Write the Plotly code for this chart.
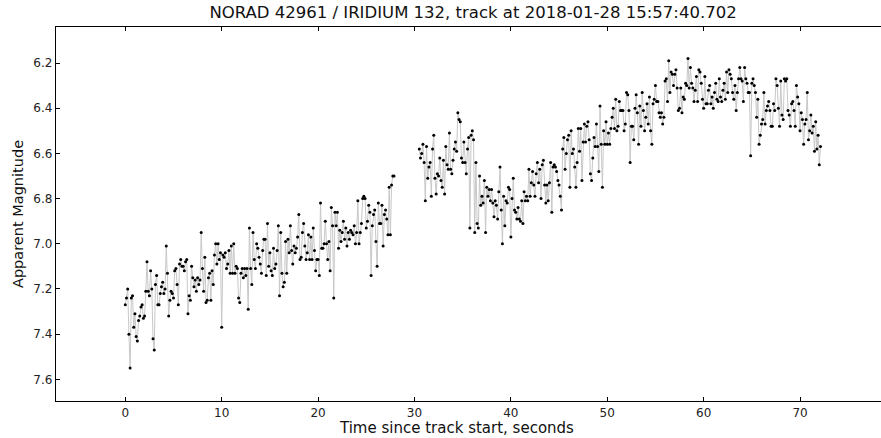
import plotly.graph_objects as go

# ---- data (apparent magnitude, sampled at SAMPLE_RATE Hz) ----
SAMPLE_RATE = 8
seg1_start = 0.0
seg1_mag = [
    7.27, 7.24, 7.20, 7.40, 7.55, 7.24, 7.23, 7.37,
    7.31, 7.41, 7.43, 7.34, 7.32, 7.28, 7.27, 7.33,
    7.32, 7.21, 7.08, 7.21, 7.23, 7.12, 7.20, 7.42,
    7.47, 7.18, 7.14, 7.27, 7.27, 7.22, 7.19, 7.17,
    7.22, 7.20, 7.01, 7.13, 7.32, 7.25, 7.21, 7.22,
    7.24, 7.12, 7.11, 7.18, 7.27, 7.09, 7.07, 7.10,
    7.10, 7.12, 7.08, 7.07, 7.31, 7.23, 7.25, 7.10,
    7.15, 7.19, 7.16, 7.21, 7.15, 7.18, 7.16, 6.95,
    7.11, 7.21, 7.06, 7.26, 7.25, 7.15, 7.13, 7.25,
    7.12, 7.18, 7.05, 7.00, 7.09, 7.00, 7.07, 7.04,
    7.37, 7.05, 7.06, 7.04, 7.11, 7.09, 7.03, 7.13,
    7.01, 7.13, 7.00, 7.13, 7.10, 7.11, 7.24, 7.26,
    7.13, 7.11, 7.15, 7.11, 7.14, 7.11, 7.29, 6.93,
    7.11, 7.18, 6.95, 7.07, 7.11, 7.00, 7.02, 7.06,
    7.09, 7.13, 7.03, 6.98, 6.98, 7.14, 6.91, 7.10,
    7.04, 7.12, 7.14, 7.02, 7.11, 7.09, 7.03, 6.92,
    7.23, 6.95, 7.13, 7.19, 7.17, 6.99, 7.13, 6.98,
    7.04, 6.92, 7.03, 7.09, 7.01, 7.04, 7.02, 6.97,
    6.87, 7.07, 7.06, 6.95, 6.91, 7.01, 7.07, 7.04,
    6.96, 7.07, 6.97, 7.07, 6.93, 7.03, 7.12, 7.07,
    7.07, 7.14, 6.82, 7.02, 7.02, 7.00, 6.90, 7.00,
    7.07, 6.99, 7.12, 6.84, 6.92, 7.24, 6.86, 6.92,
    6.86, 7.02, 6.94, 6.99, 6.95, 6.90, 6.98, 6.93,
    7.01, 6.95, 6.98, 6.94, 6.95, 6.96, 6.92, 7.00,
    6.95, 6.81, 7.00, 6.95, 6.91, 6.80, 6.79, 6.80,
    6.93, 6.90, 6.83, 6.86, 7.14, 6.92, 6.87, 6.85,
    6.99, 7.10, 6.82, 6.91, 6.91, 6.83, 7.01, 6.87,
    6.85, 6.89, 6.96, 6.75, 6.96, 6.74, 6.70, 6.70,
]
seg2_start = 30.5
seg2_mag = [
    6.58, 6.62, 6.60, 6.56, 6.64, 6.81, 6.57, 6.71,
    6.66, 6.64, 6.79, 6.58, 6.52, 6.71, 6.78, 6.69,
    6.70, 6.62, 6.72, 6.75, 6.63, 6.78, 6.57, 6.65,
    6.67, 6.51, 6.67, 6.69, 6.63, 6.58, 6.55, 6.59,
    6.42, 6.45, 6.46, 6.62, 6.64, 6.55, 6.64, 6.69,
    6.58, 6.53, 6.93, 6.52, 6.50, 6.54, 6.95, 6.64,
    6.91, 6.93, 6.70, 6.83, 6.79, 6.82, 6.72, 6.95,
    6.75, 6.79, 6.76, 6.81, 6.76, 6.82, 6.88, 6.81,
    6.83, 6.89, 6.77, 6.66, 6.85, 7.00, 6.79, 6.92,
    6.81, 6.82, 6.75, 6.76, 6.97, 6.80, 6.71, 6.85,
    6.86, 6.89, 6.84, 6.89, 6.90, 6.81, 6.91, 6.77,
    6.81, 6.79, 6.81, 6.67, 6.79, 6.73, 6.68, 6.74,
    6.79, 6.69, 6.64, 6.73, 6.67, 6.80, 6.65, 6.63,
    6.74, 6.82, 6.74, 6.81, 6.73, 6.64, 6.86, 6.66,
    6.65, 6.66, 6.68, 6.72, 6.74, 6.79, 6.85, 6.58,
    6.53, 6.67, 6.60, 6.54, 6.52, 6.75, 6.50, 6.60,
    6.58, 6.66, 6.75, 6.64, 6.49, 6.59, 6.49, 6.72,
    6.55, 6.47, 6.55, 6.48, 6.46, 6.54, 6.69, 6.72,
    6.62, 6.53, 6.57, 6.47, 6.57, 6.68, 6.39, 6.56,
    6.75, 6.50, 6.56, 6.46, 6.56, 6.51, 6.56, 6.49,
    6.44, 6.40, 6.49, 6.36, 6.50, 6.48, 6.37, 6.41,
    6.41, 6.41, 6.50, 6.47, 6.33, 6.34, 6.41, 6.64,
    6.48, 6.48, 6.54, 6.40, 6.34, 6.42, 6.56, 6.39,
    6.48, 6.33, 6.41, 6.50, 6.44, 6.38, 6.47, 6.35,
    6.50, 6.56, 6.38, 6.36, 6.30, 6.37, 6.37, 6.42,
    6.44, 6.42, 6.47, 6.44, 6.28, 6.27, 6.37, 6.19,
    6.33, 6.24, 6.25, 6.30, 6.25, 6.23, 6.31, 6.41,
    6.40, 6.31, 6.42, 6.35, 6.36, 6.29, 6.30, 6.18,
    6.31, 6.22, 6.29, 6.31, 6.37, 6.32, 6.26, 6.37,
    6.23, 6.24, 6.29, 6.36, 6.40, 6.26, 6.38, 6.38,
    6.32, 6.30, 6.38, 6.35, 6.40, 6.33, 6.29, 6.36,
    6.37, 6.27, 6.35, 6.37, 6.32, 6.29, 6.36, 6.24,
    6.33, 6.23, 6.25, 6.27, 6.33, 6.36, 6.30, 6.41,
    6.33, 6.27, 6.22, 6.27, 6.28, 6.37, 6.22, 6.27,
    6.29, 6.33, 6.33, 6.61, 6.29, 6.27, 6.30, 6.33,
    6.44, 6.36, 6.56, 6.52, 6.47, 6.45, 6.33, 6.47,
    6.41, 6.39, 6.37, 6.41, 6.48, 6.48, 6.38, 6.41,
    6.27, 6.30, 6.40, 6.48, 6.28, 6.43, 6.45, 6.27,
    6.28, 6.27, 6.41, 6.43, 6.48, 6.38, 6.37, 6.41,
    6.48, 6.30, 6.35, 6.38, 6.50, 6.42, 6.45, 6.56,
    6.47, 6.45, 6.33, 6.54, 6.50, 6.43, 6.51, 6.48,
    6.59, 6.46, 6.58, 6.52, 6.65, 6.57,
]
x_ticks = [0, 10, 20, 30, 40, 50, 60, 70]
y_ticks = [6.2, 6.4, 6.6, 6.8, 7.0, 7.2, 7.4, 7.6]
title_text = "NORAD 42961 / IRIDIUM 132, track at 2018-01-28 15:57:40.702"

seg1_t = [seg1_start + i / SAMPLE_RATE for i in range(len(seg1_mag))]
seg2_t = [seg2_start + i / SAMPLE_RATE for i in range(len(seg2_mag))]

xs = seg1_t + [None] + seg2_t
ys = seg1_mag + [None] + seg2_mag

FONT = "DejaVu Sans"
fig = go.Figure()
fig.add_trace(go.Scatter(
    x=xs, y=ys, mode="lines", connectgaps=False,
    line=dict(color="#c8c8c8", width=1), hoverinfo="skip", showlegend=False))
fig.add_trace(go.Scatter(
    x=seg1_t + seg2_t, y=seg1_mag + seg2_mag, mode="markers",
    marker=dict(color="black", size=3), showlegend=False))

fig.update_layout(
    width=881, height=438,
    margin=dict(l=56, r=0, t=27, b=37),
    paper_bgcolor="white", plot_bgcolor="white",
    font=dict(family=FONT, size=12, color="#222"),
    title=dict(text=title_text, x=0.5055, xref="paper", xanchor="center",
               y=1 - 12 / 438, yref="container", yanchor="middle",
               font=dict(family=FONT, size=16.5, color="#111")),
    xaxis=dict(range=[-7.19, 78.40], tickvals=x_ticks, ticks="inside",
               ticklen=4, tickcolor="black", showline=True, linecolor="black",
               linewidth=1.3, mirror="ticks", showgrid=False, zeroline=False,
               tickfont=dict(size=12)),
    yaxis=dict(range=[7.696, 6.0405], tickvals=y_ticks,
               ticktext=[f"{v:.1f}" for v in y_ticks], ticks="inside",
               ticklen=4, tickcolor="black", showline=True, linecolor="black",
               linewidth=1.3, mirror=False, showgrid=False, zeroline=False,
               tickfont=dict(size=12)),
    annotations=[
        dict(text="Time since track start, seconds", xref="paper", yref="paper",
             x=0.485, y=-27 / 374, xanchor="center", yanchor="middle",
             showarrow=False, font=dict(family=FONT, size=15, color="#111")),
        dict(text="Apparent Magnitude", xref="paper", yref="paper",
             x=-38 / 825, y=0.5, xanchor="center", yanchor="middle",
             textangle=-90, showarrow=False,
             font=dict(family=FONT, size=14.5, color="#111")),
    ],
)

fig.write_html("out.html")
